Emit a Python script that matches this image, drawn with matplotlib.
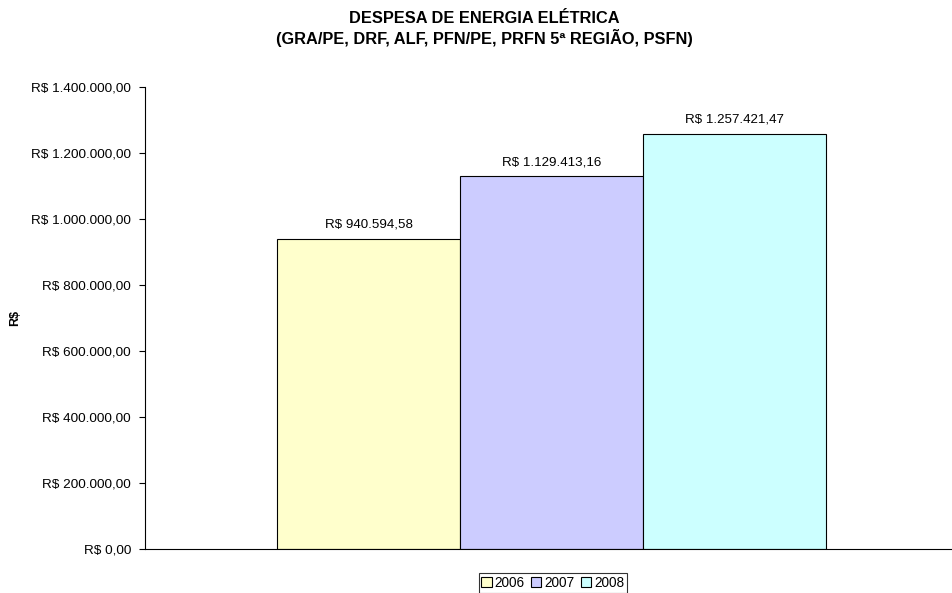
import matplotlib.pyplot as plt
from matplotlib.ticker import FuncFormatter

plt.rcParams['font.family'] = ['Liberation Sans', 'DejaVu Sans']

anos = ['2006', '2007', '2008']
valores = [940594.58, 1129413.16, 1257421.47]
cores = ['#ffffcc', '#ccccff', '#ccffff']
rotulos = ['R$ 940.594,58', 'R$ 1.129.413,16', 'R$ 1.257.421,47']


def brl(v, pos=None):
    s = f'{v:,.2f}'.replace(',', 'X').replace('.', ',').replace('X', '.')
    return 'R$ ' + s


fig = plt.figure(figsize=(9.53, 5.93), dpi=100)
ax = fig.add_axes([0.152, 0.0742, 0.847, 0.779])

w = 0.2265
for i, (a, v, c, r) in enumerate(zip(anos, valores, cores, rotulos)):
    x = (i - 1) * w + 0.004
    ax.bar(x, v, width=w, color=c, edgecolor='black', linewidth=0.8, label=a)
    ax.text(x, v + 25000, r, ha='center', va='bottom', fontsize=9.6)

ax.set_xlim(-0.5, 0.5)
ax.set_ylim(0, 1400000)
ax.set_yticks(range(0, 1400001, 200000))
ax.yaxis.set_major_formatter(FuncFormatter(brl))
ax.set_xticks([])
ax.tick_params(axis='y', labelsize=9.7, length=4, width=0.8, direction='out', pad=6)
for s in ['top', 'right']:
    ax.spines[s].set_visible(False)
ax.spines['left'].set_linewidth(0.8)
ax.spines['bottom'].set_linewidth(0.8)

fig.text(0.016, 0.463, 'R$', rotation=90, fontsize=9, fontweight='bold',
         ha='center', va='center')
fig.text(0.508, 0.951, 'DESPESA DE ENERGIA ELÉTRICA\n(GRA/PE, DRF, ALF, PFN/PE, PRFN 5ª REGIÃO, PSFN)',
         ha='center', va='center', fontsize=11.8, fontweight='bold', linespacing=1.15)

leg = fig.legend(loc='center', bbox_to_anchor=(0.58, 0.017), ncol=3, fontsize=9.8,
                 frameon=True, fancybox=False, edgecolor='black', handlelength=0.75,
                 handleheight=0.75, handletextpad=0.2, columnspacing=0.5,
                 borderpad=0.2, borderaxespad=0)
leg.get_frame().set_linewidth(0.8)

fig.savefig('out.png', dpi=100)
